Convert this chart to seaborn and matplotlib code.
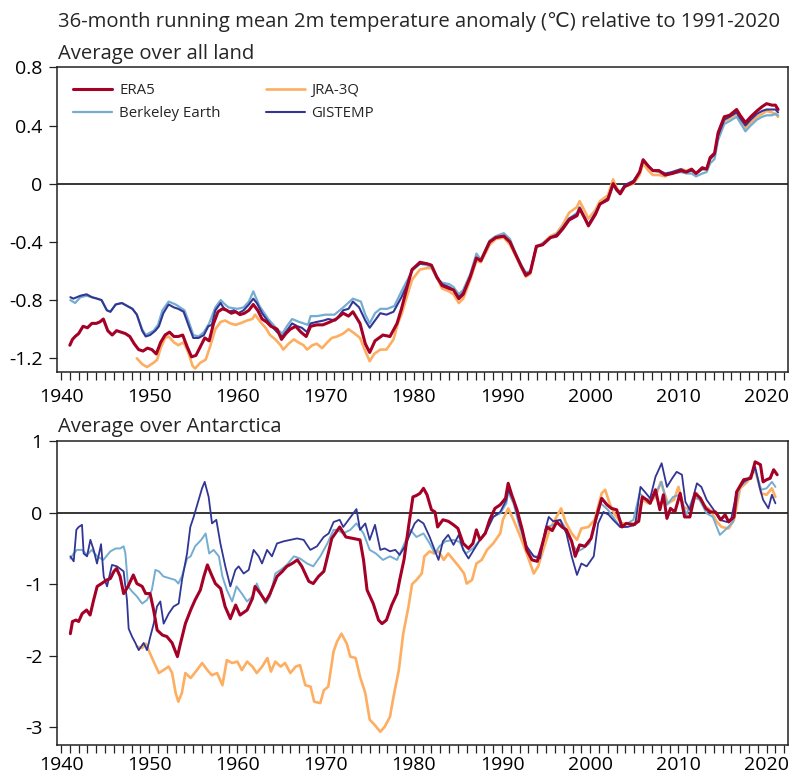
import matplotlib
matplotlib.use("Agg")
import matplotlib.pyplot as plt
from matplotlib.ticker import MultipleLocator, FixedLocator, FixedFormatter
import seaborn as sns

# ---------------------------------------------------------------- data
# Average over all land: 36-month running means (degC vs 1991-2020)
land_era5_early_yr = [1941.0, 1941.3, 1941.6, 1942.0, 1942.5, 1943.0, 1943.5, 1944.0, 1944.4, 1944.8,
                      1945.3, 1945.8, 1946.3, 1946.8, 1947.3, 1947.8, 1948.3, 1948.8, 1949.3, 1949.8,
                      1950.3, 1950.8, 1951.3, 1951.8, 1952.3, 1952.8, 1953.3, 1953.8, 1954.3, 1954.8,
                      1955.3, 1955.8, 1956.3, 1956.8, 1957.3, 1957.8, 1958.3, 1958.8, 1959.3, 1959.8,
                      1960.3, 1960.8, 1961.3, 1961.8, 1962.3, 1962.8, 1963.3, 1963.8, 1964.5, 1965.0,
                      1965.5, 1966.0, 1966.6, 1967.2, 1967.8, 1968.3, 1969.0, 1969.7, 1970.5, 1971.2,
                      1972.0, 1972.6, 1973.1, 1973.9, 1974.5, 1975.0, 1975.6, 1976.5, 1977.3, 1978.1]
land_era5_early = [-1.11, -1.07, -1.05, -1.03, -0.98, -0.99, -0.96, -0.96, -0.95, -0.93,
                   -1.01, -1.04, -1.01, -1.02, -1.03, -1.05, -1.10, -1.14, -1.15, -1.13,
                   -1.14, -1.17, -1.09, -1.04, -1.02, -1.05, -1.05, -1.04, -1.12, -1.19,
                   -1.18, -1.12, -1.06, -1.08, -0.96, -0.88, -0.86, -0.87, -0.89, -0.88,
                   -0.90, -0.89, -0.87, -0.83, -0.87, -0.93, -0.95, -0.98, -1.00, -1.07,
                   -1.03, -1.00, -0.98, -1.02, -1.05, -0.98, -0.97, -0.97, -0.95, -0.93,
                   -0.89, -0.91, -0.88, -0.96, -1.10, -1.16, -1.08, -1.04, -1.05, -0.96]

land_gis_early_yr = [1941.06, 1941.4, 1942.2, 1942.9, 1943.5, 1944.1, 1944.6, 1945.2, 1945.6, 1946.2,
                     1946.9, 1947.5, 1948.1, 1948.6, 1949.2, 1949.6, 1950.1, 1950.7, 1951.1, 1951.6,
                     1952.2, 1952.8, 1953.3, 1953.9, 1954.5, 1955.0, 1955.6, 1956.2, 1956.7, 1957.1,
                     1957.5, 1958.1, 1958.4, 1959.0, 1959.6, 1960.1, 1960.7, 1961.3, 1961.8, 1962.2,
                     1962.8, 1963.4, 1963.9, 1964.5, 1965.1, 1965.6, 1966.2, 1966.8, 1967.3, 1967.9,
                     1968.3, 1969.0, 1969.8, 1970.3, 1971.1, 1972.0, 1972.6, 1973.1, 1973.8, 1974.5,
                     1975.0, 1975.6, 1976.2, 1976.9, 1977.7]
land_gis_early = [-0.78, -0.79, -0.77, -0.76, -0.78, -0.79, -0.80, -0.87, -0.88, -0.83,
                  -0.82, -0.84, -0.86, -0.90, -1.01, -1.05, -1.04, -1.01, -0.98, -0.89,
                  -0.83, -0.85, -0.86, -0.88, -0.98, -1.06, -1.06, -1.04, -0.98, -0.97,
                  -0.87, -0.82, -0.85, -0.88, -0.87, -0.89, -0.87, -0.83, -0.79, -0.82,
                  -0.89, -0.94, -0.98, -1.02, -1.05, -1.01, -0.96, -0.98, -0.99, -1.02,
                  -0.96, -0.95, -0.94, -0.93, -0.94, -0.87, -0.86, -0.81, -0.85, -0.94,
                  -0.99, -0.94, -0.89, -0.90, -0.88]

land_bkl_early_yr = [1941.06, 1941.6, 1942.2, 1942.9, 1943.5, 1944.1, 1944.6, 1945.2, 1945.6, 1946.2,
                     1946.9, 1947.5, 1948.1, 1948.6, 1949.2, 1949.6, 1950.5, 1951.0, 1951.5, 1952.2,
                     1953.0, 1954.0, 1954.5, 1955.0, 1955.6, 1956.2, 1956.8, 1957.5, 1958.1, 1958.6,
                     1959.0, 1960.0, 1960.7, 1961.3, 1961.8, 1962.5, 1963.5, 1964.5, 1965.1, 1965.6,
                     1966.2, 1967.0, 1968.0, 1968.3, 1969.0, 1970.0, 1971.0, 1972.0, 1973.1, 1974.0,
                     1974.5, 1975.0, 1975.6, 1976.2, 1977.0, 1977.8]
land_bkl_early = [-0.80, -0.82, -0.78, -0.77, -0.78, -0.79, -0.80, -0.87, -0.88, -0.83,
                  -0.82, -0.84, -0.86, -0.90, -1.00, -1.04, -1.01, -0.97, -0.87, -0.81,
                  -0.83, -0.87, -0.95, -1.04, -1.05, -1.02, -0.96, -0.85, -0.80, -0.83,
                  -0.85, -0.86, -0.85, -0.81, -0.74, -0.84, -0.93, -1.00, -1.03, -0.98,
                  -0.93, -0.95, -0.97, -0.91, -0.91, -0.90, -0.90, -0.85, -0.79, -0.81,
                  -0.90, -0.96, -0.89, -0.86, -0.86, -0.84]

land_jra_early_yr = [1948.6, 1949.2, 1949.75, 1950.5, 1950.9, 1951.3, 1951.8, 1952.2, 1952.8, 1953.3,
                     1953.9, 1954.5, 1954.9, 1955.2, 1955.8, 1956.4, 1956.9, 1957.5, 1958.1, 1958.6,
                     1959.2, 1959.8, 1960.3, 1961.1, 1961.7, 1962.0, 1962.6, 1963.2, 1963.7, 1964.3,
                     1964.9, 1965.2, 1965.8, 1966.4, 1966.9, 1967.5, 1967.9, 1968.5, 1969.0, 1969.6,
                     1970.2, 1970.7, 1971.3, 1972.0, 1972.6, 1973.3, 1973.9, 1974.5, 1975.0, 1975.5,
                     1976.2, 1976.9, 1977.7, 1978.2]
land_jra_early = [-1.20, -1.24, -1.26, -1.23, -1.21, -1.13, -1.06, -1.05, -1.09, -1.11,
                  -1.09, -1.17, -1.25, -1.27, -1.23, -1.21, -1.12, -1.00, -0.95, -0.94,
                  -0.96, -0.97, -0.96, -0.94, -0.93, -0.90, -0.95, -0.99, -1.04, -1.07,
                  -1.11, -1.14, -1.10, -1.07, -1.09, -1.11, -1.14, -1.11, -1.10, -1.13,
                  -1.09, -1.06, -1.05, -1.03, -1.00, -1.03, -1.06, -1.15, -1.22, -1.17,
                  -1.14, -1.14, -1.07, -0.96]

land_late_yr = [1978.6, 1979.2, 1979.8, 1980.7, 1981.5, 1982.0, 1982.6, 1983.2, 1984.0, 1984.5,
                1985.1, 1985.6, 1986.4, 1987.1, 1987.6, 1988.6, 1989.3, 1990.2, 1990.9, 1991.5,
                1992.2, 1992.7, 1993.2, 1993.9, 1994.6, 1995.5, 1996.2, 1996.9, 1997.6, 1998.5,
                1998.8, 1999.4, 1999.8, 2000.6, 2001.1, 2002.0, 2002.6, 2003.0, 2003.4, 2003.9,
                2004.9, 2005.6, 2006.0, 2006.6, 2007.1, 2007.8, 2008.5, 2009.3, 2010.3, 2010.9,
                2011.5, 2012.0, 2012.7, 2013.2, 2013.6, 2014.1, 2014.5, 2015.2, 2015.8, 2016.6,
                2017.0, 2017.6, 2018.2, 2018.9, 2019.5, 2020.0, 2020.6, 2021.0, 2021.3]
land_era5_late = [-0.86, -0.72, -0.59, -0.54, -0.55, -0.56, -0.64, -0.70, -0.72, -0.73,
                  -0.79, -0.76, -0.64, -0.51, -0.53, -0.40, -0.37, -0.36, -0.40, -0.48,
                  -0.57, -0.63, -0.61, -0.43, -0.42, -0.37, -0.36, -0.31, -0.25, -0.22,
                  -0.17, -0.24, -0.29, -0.21, -0.14, -0.11, 0.00, -0.04, -0.07, -0.02,
                  0.01, 0.08, 0.165, 0.12, 0.09, 0.09, 0.06, 0.07, 0.09, 0.08,
                  0.10, 0.07, 0.11, 0.10, 0.18, 0.21, 0.35, 0.46, 0.47, 0.51,
                  0.47, 0.42, 0.46, 0.50, 0.53, 0.55, 0.54, 0.54, 0.51]
land_jra_late = [-0.90, -0.78, -0.66, -0.59, -0.58, -0.58, -0.64, -0.72, -0.74, -0.76,
                 -0.82, -0.79, -0.66, -0.53, -0.54, -0.42, -0.38, -0.37, -0.42, -0.49,
                 -0.58, -0.64, -0.62, -0.44, -0.41, -0.36, -0.34, -0.28, -0.20, -0.16,
                 -0.12, -0.19, -0.24, -0.18, -0.12, -0.08, 0.03, -0.03, -0.06, -0.02,
                 0.00, 0.06, 0.14, 0.09, 0.06, 0.06, 0.05, 0.08, 0.10, 0.09,
                 0.10, 0.07, 0.10, 0.10, 0.17, 0.20, 0.33, 0.43, 0.45, 0.48,
                 0.44, 0.38, 0.42, 0.46, 0.48, 0.50, 0.49, 0.48, 0.46]
land_bkl_late = [-0.74, -0.67, -0.60, -0.55, -0.56, -0.57, -0.65, -0.68, -0.69, -0.71,
                 -0.76, -0.73, -0.62, -0.48, -0.52, -0.39, -0.36, -0.34, -0.38, -0.47,
                 -0.56, -0.61, -0.60, -0.43, -0.41, -0.37, -0.35, -0.30, -0.24, -0.20,
                 -0.16, -0.23, -0.28, -0.20, -0.14, -0.11, -0.01, -0.05, -0.07, -0.02,
                 0.01, 0.08, 0.16, 0.12, 0.09, 0.08, 0.06, 0.07, 0.08, 0.07,
                 0.07, 0.05, 0.07, 0.08, 0.14, 0.17, 0.30, 0.41, 0.43, 0.46,
                 0.42, 0.36, 0.40, 0.44, 0.46, 0.47, 0.47, 0.48, 0.47]
land_gis_late = [-0.78, -0.70, -0.59, -0.55, -0.55, -0.56, -0.64, -0.69, -0.71, -0.73,
                 -0.78, -0.75, -0.64, -0.51, -0.53, -0.40, -0.37, -0.36, -0.40, -0.48,
                 -0.57, -0.62, -0.61, -0.43, -0.42, -0.37, -0.35, -0.30, -0.24, -0.21,
                 -0.17, -0.24, -0.28, -0.20, -0.14, -0.10, 0.00, -0.04, -0.06, -0.01,
                 0.02, 0.08, 0.16, 0.12, 0.09, 0.09, 0.07, 0.08, 0.10, 0.08,
                 0.09, 0.07, 0.10, 0.10, 0.17, 0.20, 0.33, 0.44, 0.46, 0.49,
                 0.45, 0.40, 0.44, 0.48, 0.50, 0.51, 0.51, 0.51, 0.49]

# Average over Antarctica
ant_era5_yr = [1941.06, 1941.3, 1941.7, 1942.0, 1942.4, 1942.9, 1943.3, 1943.7, 1944.1, 1944.6,
               1945.2, 1945.6, 1946.0, 1946.3, 1946.7, 1947.1, 1947.6, 1948.2, 1948.6, 1949.2,
               1949.6, 1950.1, 1950.5, 1950.9, 1951.5, 1952.0, 1952.6, 1953.2, 1953.5, 1954.1,
               1954.7, 1955.2, 1955.8, 1956.2, 1956.6, 1957.0, 1957.5, 1958.1, 1958.6, 1959.2,
               1959.8, 1960.3, 1961.1, 1961.7, 1962.0, 1962.6, 1963.2, 1963.7, 1964.5, 1965.1,
               1965.6, 1966.2, 1966.8, 1967.3, 1968.1, 1968.6, 1969.2, 1969.8, 1970.3, 1970.7,
               1971.6, 1972.3, 1973.1, 1973.9, 1974.3, 1974.7, 1975.4, 1976.0, 1976.4, 1976.9,
               1977.5, 1978.1, 1978.4, 1978.9, 1979.4, 1979.9, 1980.3, 1980.7, 1981.1, 1981.5,
               1982.0, 1982.4, 1982.7, 1983.3, 1983.9, 1984.5, 1985.0, 1985.6, 1986.2, 1986.7,
               1987.1, 1987.5, 1988.1, 1988.6, 1989.2, 1989.8, 1990.4, 1990.7, 1991.1, 1991.7,
               1992.3, 1992.8, 1993.4, 1994.0, 1994.5, 1995.1, 1995.7, 1996.2, 1996.8, 1997.3,
               1997.9, 1998.3, 1998.8, 1999.4, 2000.1, 2000.7, 2001.3, 2001.9, 2002.4, 2003.0,
               2003.6, 2004.1, 2004.9, 2005.5, 2005.9, 2006.4, 2006.8, 2007.4, 2007.9, 2008.3,
               2008.7, 2009.1, 2009.6, 2010.2, 2010.7, 2011.3, 2011.9, 2012.5, 2013.1, 2013.6,
               2014.2, 2014.8, 2015.3, 2015.7, 2016.3, 2016.6, 2017.4, 2018.2, 2018.7, 2019.3,
               2019.6, 2020.0, 2020.4, 2020.8, 2021.2]
ant_era5 = [-1.69, -1.52, -1.50, -1.52, -1.41, -1.36, -1.43, -1.22, -1.03, -0.99,
            -0.94, -0.92, -0.82, -0.78, -0.89, -1.13, -1.03, -0.87, -0.99, -1.03,
            -1.13, -1.13, -1.36, -1.64, -1.71, -1.73, -1.82, -2.01, -1.85, -1.55,
            -1.36, -1.22, -1.08, -0.89, -0.73, -0.85, -0.99, -1.06, -1.31, -1.48,
            -1.29, -1.43, -1.36, -1.20, -1.03, -1.13, -1.24, -1.13, -0.89, -0.82,
            -0.75, -0.71, -0.66, -0.75, -0.96, -0.99, -0.89, -0.82, -0.57, -0.36,
            -0.20, -0.34, -0.36, -0.38, -0.66, -1.08, -1.27, -1.50, -1.55, -1.50,
            -1.29, -1.13, -0.94, -0.65, -0.20, 0.22, 0.24, 0.27, 0.34, 0.25,
            0.04, 0.01, -0.20, -0.10, -0.12, -0.17, -0.22, -0.43, -0.50, -0.43,
            -0.24, -0.38, -0.29, -0.10, 0.06, 0.11, 0.20, 0.41, 0.25, 0.04,
            -0.24, -0.52, -0.66, -0.68, -0.47, -0.20, -0.25, -0.13, -0.20, -0.24,
            -0.40, -0.61, -0.45, -0.47, -0.36, -0.06, 0.20, 0.11, 0.06, 0.04,
            -0.20, -0.15, -0.17, -0.12, 0.22, 0.18, 0.13, 0.32, 0.04, 0.25,
            -0.08, 0.06, 0.01, 0.27, -0.06, -0.06, 0.27, 0.20, 0.06, 0.01,
            0.01, -0.10, -0.03, -0.13, -0.06, 0.29, 0.46, 0.48, 0.71, 0.67,
            0.43, 0.46, 0.48, 0.60, 0.53]

ant_gis_yr = [1941.06, 1941.44, 1941.74, 1942.0, 1942.38, 1942.57, 1942.95, 1943.33, 1943.7, 1944.08,
              1944.54, 1944.84, 1945.22, 1945.78, 1946.35, 1947.1, 1947.48, 1947.67, 1948.05, 1948.43,
              1948.81, 1949.37, 1949.75, 1950.13, 1950.51, 1950.88, 1951.26, 1951.64, 1952.21, 1952.77,
              1953.34, 1953.72, 1954.29, 1954.66, 1955.04, 1955.61, 1955.99, 1956.29, 1956.74, 1957.12,
              1957.61, 1958.07, 1958.63, 1959.2, 1959.77, 1960.14, 1960.71, 1961.28, 1961.84, 1962.41,
              1962.79, 1963.36, 1963.92, 1964.49, 1965.25, 1966.0, 1966.76, 1967.51, 1968.27, 1969.02,
              1969.78, 1970.35, 1970.91, 1971.6, 1972.0, 1972.6, 1973.5, 1973.9, 1974.5, 1975.0,
              1975.6, 1976.2, 1976.7, 1977.3, 1977.9, 1978.4, 1979.0, 1979.6, 1980.1, 1980.5,
              1981.1, 1981.8, 1982.3, 1982.8, 1983.3, 1983.9, 1984.5, 1985.1, 1985.6, 1986.2,
              1986.7, 1987.5, 1988.3, 1989.0, 1989.8, 1990.5, 1990.7, 1991.3, 1992.0, 1992.8,
              1993.6, 1994.3, 1994.9, 1995.3, 1995.8, 1996.6, 1997.3, 1997.9, 1998.5, 1999.0,
              1999.6, 2000.4, 2000.9, 2001.5, 2002.1, 2002.6, 2003.4, 2004.2, 2005.1, 2005.7,
              2006.2, 2006.8, 2007.4, 2008.1, 2008.7, 2009.3, 2009.8, 2010.4, 2010.8, 2011.3,
              2012.1, 2012.6, 2013.2, 2014.0, 2014.7, 2015.5, 2016.0, 2016.6, 2017.4, 2018.1,
              2018.7, 2019.2, 2019.6, 2020.2, 2020.6, 2021.0]
ant_gis = [-0.61, -0.68, -0.24, -0.20, -0.17, -0.57, -0.61, -0.38, -0.52, -0.71,
           -0.44, -0.89, -1.03, -0.73, -0.75, -0.82, -1.22, -1.62, -1.73, -1.82,
           -1.92, -1.82, -1.92, -1.73, -1.55, -1.31, -1.24, -1.55, -1.41, -1.31,
           -1.27, -0.94, -0.57, -0.20, -0.06, 0.18, 0.34, 0.43, 0.22, -0.15,
           -0.10, -0.43, -0.75, -1.03, -0.80, -0.75, -0.85, -0.80, -0.52, -0.61,
           -0.71, -0.52, -0.61, -0.43, -0.40, -0.38, -0.36, -0.38, -0.52, -0.47,
           -0.34, -0.29, -0.13, -0.10, -0.20, -0.10, 0.05, -0.24, -0.15, -0.38,
           -0.17, -0.52, -0.50, -0.54, -0.52, -0.59, -0.47, -0.29, -0.15, -0.10,
           -0.15, -0.34, -0.50, -0.66, -0.40, -0.31, -0.45, -0.31, -0.52, -0.64,
           -0.54, -0.38, -0.24, -0.06, 0.01, 0.18, 0.32, 0.18, -0.15, -0.47,
           -0.61, -0.64, -0.24, -0.06, -0.12, -0.10, -0.29, -0.61, -0.87, -0.71,
           -0.75, -0.61, -0.15, 0.01, -0.03, -0.10, -0.20, -0.20, -0.17, 0.36,
           0.29, 0.20, 0.50, 0.69, 0.36, 0.48, 0.57, 0.53, 0.15, 0.04,
           0.41, 0.36, 0.18, 0.04, -0.10, -0.13, -0.08, 0.29, 0.43, 0.48,
           0.64, 0.36, 0.18, 0.06, 0.25, 0.13]

ant_bkl_yr = [1941.06, 1941.44, 1941.8, 1942.4, 1942.95, 1943.5, 1944.1, 1944.8, 1945.6, 1946.2,
              1946.7, 1947.1, 1947.3, 1947.6, 1948.05, 1948.6, 1949.2, 1949.75, 1950.3, 1950.7,
              1951.1, 1951.6, 1952.4, 1952.95, 1953.3, 1953.7, 1954.3, 1954.7, 1955.2, 1955.9,
              1956.4, 1956.8, 1957.3, 1957.9, 1958.3, 1958.8, 1959.4, 1959.9, 1960.5, 1961.1,
              1961.7, 1962.2, 1962.8, 1963.2, 1963.7, 1964.3, 1964.9, 1965.6, 1966.4, 1967.1,
              1967.9, 1968.6, 1969.4, 1970.2, 1970.9, 1971.3, 1972.0, 1972.8, 1973.5, 1974.3,
              1975.0, 1975.7, 1976.5, 1977.3, 1978.1, 1978.8, 1979.6, 1980.3, 1981.1, 1981.8,
              1982.4, 1982.9, 1983.6, 1984.5, 1985.2, 1985.9, 1986.7, 1987.5, 1988.3, 1989.0,
              1989.8, 1990.5, 1990.7, 1991.3, 1992.0, 1992.8, 1993.6, 1994.3, 1995.1, 1995.8,
              1996.6, 1997.3, 1998.1, 1998.6, 1999.2, 1999.9, 2000.7, 2001.2, 2002.0, 2002.6,
              2003.4, 2004.2, 2004.9, 2005.6, 2006.4, 2007.1, 2008.1, 2008.7, 2009.4, 2010.2,
              2010.9, 2011.7, 2012.4, 2013.2, 2013.9, 2014.7, 2015.5, 2016.2, 2016.9, 2017.6,
              2018.7, 2019.4, 2020.0, 2020.6, 2021.0]
ant_bkl = [-0.64, -0.57, -0.52, -0.52, -0.59, -0.52, -0.61, -0.66, -0.54, -0.50,
           -0.50, -0.47, -0.57, -1.03, -1.10, -1.17, -1.27, -1.22, -1.08, -0.80,
           -0.82, -0.89, -0.92, -0.94, -0.99, -0.89, -0.64, -0.61, -0.47, -0.38,
           -0.29, -0.57, -0.52, -0.61, -0.89, -1.08, -1.24, -1.03, -1.13, -1.24,
           -1.17, -0.99, -1.17, -1.27, -1.17, -0.85, -0.80, -0.73, -0.61, -0.64,
           -0.71, -0.75, -0.61, -0.43, -0.24, -0.24, -0.29, -0.24, -0.15, -0.29,
           -0.52, -0.57, -0.66, -0.61, -0.66, -0.47, -0.24, -0.34, -0.29, -0.43,
           -0.57, -0.47, -0.40, -0.38, -0.41, -0.57, -0.50, -0.38, -0.24, -0.06,
           -0.01, 0.13, 0.29, 0.13, -0.20, -0.50, -0.61, -0.61, -0.20, -0.17,
           -0.10, -0.24, -0.47, -0.54, -0.50, -0.43, -0.10, 0.13, 0.04, -0.06,
           -0.20, -0.15, -0.10, 0.27, 0.18, 0.20, 0.43, 0.11, 0.22, 0.25,
           -0.03, 0.22, 0.18, -0.01, -0.06, -0.31, -0.22, -0.13, 0.36, 0.43,
           0.60, 0.32, 0.34, 0.43, 0.36]

ant_jra_yr = [1948.6, 1949.2, 1949.6, 1950.0, 1950.5, 1951.1, 1951.6, 1952.2, 1952.6, 1953.0,
              1953.3, 1953.7, 1954.1, 1954.7, 1955.4, 1956.0, 1956.6, 1957.1, 1957.7, 1958.3,
              1958.8, 1959.4, 1960.0, 1960.5, 1961.1, 1961.7, 1962.2, 1962.8, 1963.4, 1963.8,
              1964.3, 1964.9, 1965.4, 1966.0, 1966.6, 1967.1, 1967.7, 1968.3, 1968.7, 1969.4,
              1969.8, 1970.3, 1970.9, 1971.3, 1971.8, 1972.4, 1972.8, 1973.4, 1973.9, 1974.5,
              1975.0, 1975.6, 1976.2, 1976.7, 1977.3, 1977.7, 1978.3, 1978.8, 1979.4, 1979.8,
              1980.3, 1980.9, 1981.2, 1981.8, 1982.3, 1982.8, 1983.4, 1983.9, 1984.5, 1985.1,
              1985.7, 1986.0, 1986.6, 1987.1, 1987.7, 1988.3, 1989.0, 1989.8, 1990.1, 1990.7,
              1991.3, 1992.0, 1992.8, 1993.6, 1994.1, 1994.8, 1995.4, 1996.0, 1996.7, 1997.2,
              1997.9, 1998.5, 1999.0, 1999.8, 2000.5, 2001.3, 2001.7, 2002.2, 2002.8, 2003.6,
              2004.4, 2005.1, 2005.9, 2006.6, 2007.4, 2008.0, 2008.8, 2009.5, 2010.0, 2010.6,
              2011.3, 2012.1, 2012.8, 2013.6, 2014.3, 2014.9, 2015.7, 2016.3, 2017.0, 2017.8,
              2018.7, 2019.4, 2020.0, 2020.6, 2021.0]
ant_jra = [-1.87, -1.89, -1.83, -1.94, -2.08, -2.24, -2.20, -2.15, -2.24, -2.52,
           -2.64, -2.52, -2.24, -2.31, -2.20, -2.10, -2.20, -2.27, -2.24, -2.41,
           -2.06, -2.10, -2.08, -2.20, -2.08, -2.15, -2.24, -2.15, -2.03, -2.22,
           -2.08, -2.15, -2.10, -2.24, -2.15, -2.13, -2.41, -2.43, -2.64, -2.66,
           -2.48, -2.43, -1.94, -1.80, -1.69, -1.83, -2.01, -2.03, -2.29, -2.52,
           -2.89, -2.97, -3.06, -2.99, -2.85, -2.57, -2.20, -1.69, -1.31, -1.00,
           -0.94, -0.85, -0.61, -0.54, -0.57, -0.54, -0.66, -0.57, -0.66, -0.75,
           -0.85, -0.99, -0.94, -0.71, -0.66, -0.52, -0.43, -0.29, -0.10, 0.06,
           -0.10, -0.31, -0.57, -0.85, -0.75, -0.47, -0.24, -0.10, 0.06, -0.13,
           -0.29, -0.38, -0.22, -0.20, -0.10, 0.27, 0.32, 0.13, -0.03, -0.15,
           -0.15, -0.15, 0.18, 0.13, 0.22, 0.43, 0.13, 0.18, 0.36, 0.08,
           0.04, 0.27, 0.11, 0.04, -0.12, -0.20, -0.22, -0.10, 0.34, 0.43,
           0.60, 0.27, 0.25, 0.34, 0.22]

# axis labels
land_yticks = [0.8, 0.4, 0.0, -0.4, -0.8, -1.2]
land_yticklabels = ["0.8", "0.4", "0", "-0.4", "-0.8", "-1.2"]
ant_yticks = [1, 0, -1, -2, -3]
ant_yticklabels = ["1", "0", "-1", "-2", "-3"]
decades = [1940, 1950, 1960, 1970, 1980, 1990, 2000, 2010, 2020]
decade_labels = [str(d) for d in decades]

title_text = "36-month running mean 2m temperature anomaly (\u2103) relative to 1991-2020"
land_title = "Average over all land"
ant_title = "Average over Antarctica"

# ---------------------------------------------------------------- style
sns.set_theme(style="ticks")
plt.rcParams["font.family"] = ["Open Sans", "DejaVu Sans"]
plt.rcParams["axes.unicode_minus"] = False

C_ERA5 = "#a50026"
C_JRA = "#fdae61"
C_BKL = "#74add1"
C_GIS = "#313695"

TICK_FS = 14
TITLE_FS = 14.6
FIG_W, FIG_H = 792, 774

fig = plt.figure(figsize=(FIG_W / 100, FIG_H / 100), dpi=100)
left = 57.3 / FIG_W
width = 731 / FIG_W
ax1 = fig.add_axes([left, 1 - 371.7 / FIG_H, width, 304.4 / FIG_H])
ax2 = fig.add_axes([left, 1 - 745.0 / FIG_H, width, 304.3 / FIG_H])


def draw(ax, x, y, color, lw, label=None):
    sns.lineplot(x=x, y=y, ax=ax, color=color, lw=lw, estimator=None, sort=False,
                 label=label, legend=False, solid_joinstyle="round")


# upper panel
draw(ax1, land_jra_early_yr + land_late_yr, land_jra_early + land_jra_late, C_JRA, 1.9, "JRA-3Q")
draw(ax1, land_bkl_early_yr + land_late_yr, land_bkl_early + land_bkl_late, C_BKL, 1.6, "Berkeley Earth")
draw(ax1, land_gis_early_yr + land_late_yr, land_gis_early + land_gis_late, C_GIS, 1.5, "GISTEMP")
draw(ax1, land_era5_early_yr + land_late_yr, land_era5_early + land_era5_late, C_ERA5, 2.2, "ERA5")

# lower panel
draw(ax2, ant_jra_yr, ant_jra, C_JRA, 1.9)
draw(ax2, ant_bkl_yr, ant_bkl, C_BKL, 1.4)
draw(ax2, ant_gis_yr, ant_gis, C_GIS, 1.3)
draw(ax2, ant_era5_yr, ant_era5, C_ERA5, 2.2)

for ax, yt, ytl, ylim, xpad in ((ax1, land_yticks, land_yticklabels, (-1.292, 0.8), 6.0),
                                (ax2, ant_yticks, ant_yticklabels, (-3.245, 1.005), 2.5)):
    ax.axhline(0, color="black", lw=1.1, zorder=1)
    ax.set_xlim(1939.58, 2022.46)
    ax.set_ylim(*ylim)
    ax.xaxis.set_major_locator(FixedLocator(decades))
    ax.xaxis.set_major_formatter(FixedFormatter(decade_labels))
    ax.xaxis.set_minor_locator(MultipleLocator(1))
    ax.yaxis.set_major_locator(FixedLocator(yt))
    ax.yaxis.set_major_formatter(FixedFormatter(ytl))
    ax.tick_params(axis="both", which="both", direction="out", colors="#222222",
                   labelcolor="black", labelsize=TICK_FS, width=0.9)
    ax.tick_params(axis="x", which="both", length=5.5, pad=xpad)
    ax.tick_params(axis="y", which="major", length=6, pad=4.5)
    ax.set_xlabel("")
    ax.set_ylabel("")
    ax.grid(False)
    for s in ax.spines.values():
        s.set_visible(True)
        s.set_linewidth(1.1)
        s.set_color("#222222")

# legend: two columns, ERA5 / Berkeley Earth left, JRA-3Q / GISTEMP right
handles = {ln.get_label(): ln for ln in ax1.get_lines()}
order = ["ERA5", "Berkeley Earth", "JRA-3Q", "GISTEMP"]
ax1.legend([handles[k] for k in order], order, ncol=2, loc="upper left",
           bbox_to_anchor=(0.022, 0.948), frameon=False, fontsize=10.8,
           handlelength=2.6, handletextpad=0.45, columnspacing=3.0,
           labelspacing=0.55, borderpad=0, borderaxespad=0)

# titles
tx = 57.5 / FIG_W
fig.text(tx, 1 - 27 / FIG_H, title_text, ha="left", va="baseline", fontsize=TITLE_FS)
fig.text(tx, 1 - 58.5 / FIG_H, land_title, ha="left", va="baseline", fontsize=TITLE_FS)
fig.text(tx, 1 - 431.7 / FIG_H, ant_title, ha="left", va="baseline", fontsize=TITLE_FS)

fig.savefig("out.png", dpi=100, facecolor="white")
